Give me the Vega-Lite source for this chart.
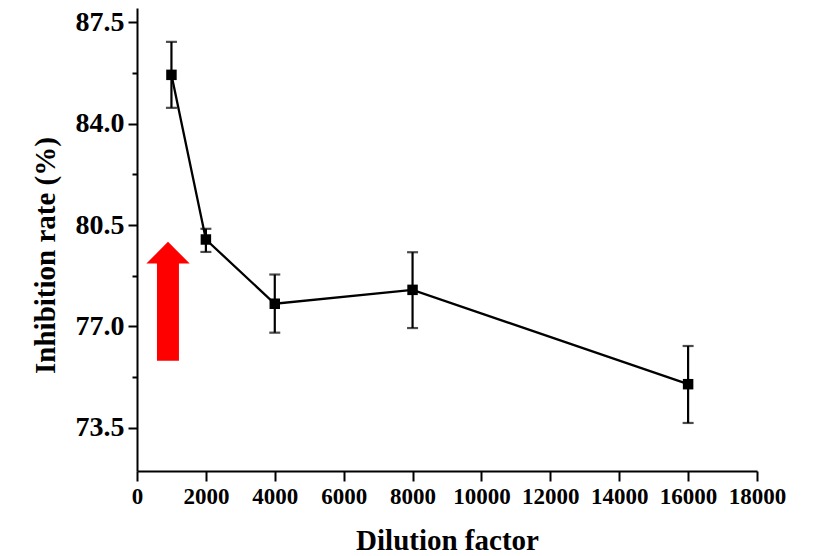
{
  "$schema": "https://vega.github.io/schema/vega-lite/v6.json",
  "width": 620,
  "height": 463,
  "autosize": "none",
  "padding": {"left": 137, "top": 8, "right": 56, "bottom": 85},
  "background": "white",
  "config": {
    "view": {"stroke": null},
    "font": "Liberation Serif",
    "axis": {
      "domainColor": "black",
      "domainWidth": 2,
      "tickColor": "black",
      "tickWidth": 2,
      "labelColor": "black",
      "labelFont": "Liberation Serif",
      "labelFontWeight": "bold",
      "titleFont": "Liberation Serif",
      "titleFontWeight": "bold",
      "titleColor": "black",
      "grid": false
    }
  },
  "datasets": {
    "points": [
      {"dilution": 1000, "rate": 85.69, "lo": 84.55, "hi": 86.83},
      {"dilution": 2000, "rate": 80.0, "lo": 79.57, "hi": 80.37},
      {"dilution": 4000, "rate": 77.78, "lo": 76.78, "hi": 78.79},
      {"dilution": 8000, "rate": 78.26, "lo": 76.94, "hi": 79.56},
      {"dilution": 16000, "rate": 75.0, "lo": 73.66, "hi": 76.32}
    ],
    "shaft": [
      {"x1": 580, "x2": 1218, "y1": 75.81, "y2": 79.2}
    ],
    "head": [
      {"x": 273, "top": 79.17, "base": 79.17},
      {"x": 900, "top": 79.92, "base": 79.17},
      {"x": 1529, "top": 79.17, "base": 79.17}
    ]
  },
  "layer": [
    {
      "data": {"name": "points"},
      "mark": {"type": "rule", "color": "black", "strokeWidth": 2.2},
      "encoding": {
        "x": {
          "field": "dilution", "type": "quantitative",
          "scale": {"domain": [0, 18000], "nice": false, "zero": false},
          "axis": {
            "title": "Dilution factor",
            "titleFontSize": 29,
            "titlePadding": 18,
            "values": [0,1000,2000,3000,4000,5000,6000,7000,8000,9000,10000,11000,12000,13000,14000,15000,16000,17000,18000],
            "labelExpr": "datum.value % 2000 === 0 ? format(datum.value, 'd') : ''",
            "labelFontSize": 23,
            "labelPadding": 4,
            "labelOverlap": false,
            "labelFlush": false,
            "tickSize": {"condition": {"test": "datum.value % 2000 === 0", "value": 10}, "value": 5}
          }
        },
        "y": {
          "field": "lo", "type": "quantitative",
          "scale": {"domain": [72, 88], "nice": false, "zero": false},
          "axis": {
            "title": "Inhibition rate (%)",
            "titleFontSize": 29,
            "titleAngle": -90,
            "titleAlign": "center",
            "titleBaseline": "middle",
            "titleX": -92,
            "titleY": 247,
            "values": [73.5, 75.25, 77, 78.75, 80.5, 82.25, 84, 85.75, 87.5],
            "labelExpr": "(datum.value * 100) % 350 === 0 ? format(datum.value, '.1f') : ''",
            "labelFontSize": 28,
            "labelPadding": 4,
            "labelOverlap": false,
            "labelFlush": false,
            "tickSize": {"condition": {"test": "(datum.value * 100) % 350 === 0", "value": 9}, "value": 5}
          }
        },
        "y2": {"field": "hi"}
      }
    },
    {
      "data": {"name": "points"},
      "mark": {"type": "tick", "orient": "horizontal", "color": "black", "thickness": 2.2, "size": 11},
      "encoding": {
        "x": {"field": "dilution", "type": "quantitative"},
        "y": {"field": "lo", "type": "quantitative"}
      }
    },
    {
      "data": {"name": "points"},
      "mark": {"type": "tick", "orient": "horizontal", "color": "black", "thickness": 2.2, "size": 11},
      "encoding": {
        "x": {"field": "dilution", "type": "quantitative"},
        "y": {"field": "hi", "type": "quantitative"}
      }
    },
    {
      "data": {"name": "points"},
      "mark": {"type": "line", "color": "black", "strokeWidth": 2.3},
      "encoding": {
        "x": {"field": "dilution", "type": "quantitative"},
        "y": {"field": "rate", "type": "quantitative"}
      }
    },
    {
      "data": {"name": "points"},
      "mark": {"type": "point", "shape": "square", "filled": true, "color": "black", "size": 110, "opacity": 1},
      "encoding": {
        "x": {"field": "dilution", "type": "quantitative"},
        "y": {"field": "rate", "type": "quantitative"}
      }
    },
    {
      "data": {"name": "shaft"},
      "mark": {"type": "rect", "color": "#ff0000"},
      "encoding": {
        "x": {"field": "x1", "type": "quantitative"},
        "x2": {"field": "x2"},
        "y": {"field": "y1", "type": "quantitative"},
        "y2": {"field": "y2"}
      }
    },
    {
      "data": {"name": "head"},
      "mark": {"type": "area", "color": "#ff0000", "opacity": 1},
      "encoding": {
        "x": {"field": "x", "type": "quantitative"},
        "y": {"field": "top", "type": "quantitative"},
        "y2": {"field": "base"}
      }
    }
  ]
}
